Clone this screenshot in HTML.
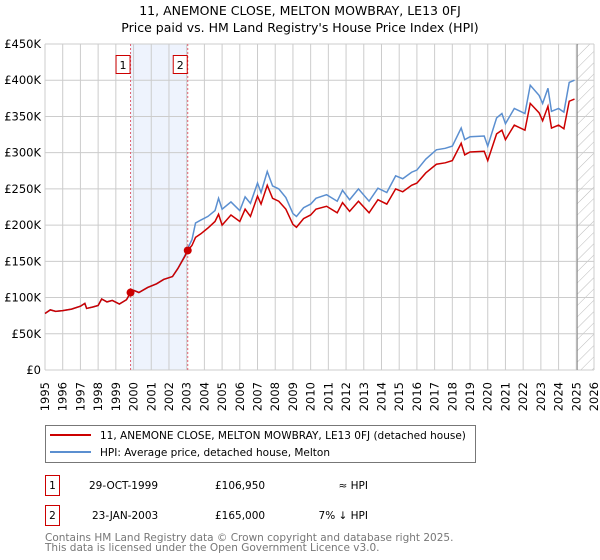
<!DOCTYPE html>
<html><head><meta charset="utf-8">
<style>
body{margin:0;background:#fff;}
svg{display:block;font-family:"DejaVu Sans","Liberation Sans",sans-serif;}
</style></head>
<body>
<svg id="chart" width="600" height="560" viewBox="0 0 600 560" xmlns="http://www.w3.org/2000/svg">
<text x="300" y="15" text-anchor="middle" font-size="12.5" fill="#000">11, ANEMONE CLOSE, MELTON MOWBRAY, LE13 0FJ</text>
<text x="300" y="32" text-anchor="middle" font-size="12.5" fill="#000">Price paid vs. HM Land Registry's House Price Index (HPI)</text>
<g id="grid"></g>
<g id="series"></g>
<g id="axes"></g>
<g>
<rect x="45.5" y="425.5" width="430" height="37" fill="#fff" stroke="#777"/>
<line x1="50" y1="435" x2="91" y2="435" stroke="#cc0000" stroke-width="2"/>
<text x="100" y="439" font-size="10.5">11, ANEMONE CLOSE, MELTON MOWBRAY, LE13 0FJ (detached house)</text>
<line x1="50" y1="452" x2="91" y2="452" stroke="#5b8fd0" stroke-width="2"/>
<text x="100" y="456" font-size="10.5">HPI: Average price, detached house, Melton</text>
</g>
<g font-size="10.5">
<rect x="45.5" y="475.5" width="14" height="20" fill="#fff" stroke="#cc0000"/>
<text x="52.5" y="489" text-anchor="middle">1</text>
<text x="89" y="489">29-OCT-1999</text>
<text x="215" y="489">£106,950</text>
<text x="368" y="489" text-anchor="end">≈ HPI</text>
<rect x="45.5" y="505.5" width="14" height="20" fill="#fff" stroke="#cc0000"/>
<text x="52.5" y="519" text-anchor="middle">2</text>
<text x="92" y="519">23-JAN-2003</text>
<text x="215" y="519">£165,000</text>
<text x="368" y="519" text-anchor="end">7% ↓ HPI</text>
</g>
<text x="45" y="541" font-size="10.5" fill="#777">Contains HM Land Registry data © Crown copyright and database right 2025.</text>
<text x="45" y="551" font-size="10.5" fill="#777">This data is licensed under the Open Government Licence v3.0.</text>
</svg>
<script>
const years=[1995,1995.3,1995.6,1996,1996.5,1997,1997.25,1997.35,1997.7,1998,1998.2,1998.5,1998.8,1999.2,1999.6,1999.83,2000,2000.3,2000.8,2001.3,2001.7,2002.2,2002.5,2002.9,2003.06,2003.3,2003.5,2003.8,2004.2,2004.6,2004.8,2005,2005.5,2006,2006.3,2006.6,2007,2007.2,2007.55,2007.85,2008.2,2008.6,2009,2009.2,2009.6,2010,2010.3,2010.9,2011.5,2011.8,2012.2,2012.7,2013.3,2013.8,2014.3,2014.8,2015.2,2015.7,2016,2016.5,2017.1,2017.6,2018,2018.5,2018.7,2019,2019.8,2020,2020.5,2020.8,2021,2021.5,2022.1,2022.4,2022.9,2023.1,2023.4,2023.6,2024,2024.3,2024.6,2024.9];
const hpiValues=[78,83,81,82,84,88,92,85,87,89,98,94,96,91,97,106,110,107,114,119,125,129,140,158,168,180,203,207,212,220,237,222,232,220,239,230,258,245,274,254,250,238,216,212,224,229,237,242,233,248,235,250,233,251,245,268,264,273,276,291,304,306,309,334,318,322,323,309,348,354,340,361,354,393,379,368,389,357,361,356,397,400];
const priceValues=[78,83,81,82,84,88,92,85,87,89,98,94,96,91,97,107,110,107,114,119,125,129,140,157,165,172,183,188,196,205,215,200,214,205,222,212,240,229,255,237,233,222,201,197,209,214,222,226,217,231,219,233,217,235,229,250,246,255,258,272,284,286,289,313,297,301,302,289,326,331,318,338,331,368,355,344,364,334,338,333,371,374];
const saleYears=[1999.83,2003.06];
const salePrices=[106.95,165];
const saleLabels=["1","2"];
const yTicks=[0,50,100,150,200,250,300,350,400,450];
const yTickLabels=["£0","£50K","£100K","£150K","£200K","£250K","£300K","£350K","£400K","£450K"];
const xTicks=[1995,1996,1997,1998,1999,2000,2001,2002,2003,2004,2005,2006,2007,2008,2009,2010,2011,2012,2013,2014,2015,2016,2017,2018,2019,2020,2021,2022,2023,2024,2025,2026];

const NS="http://www.w3.org/2000/svg";
const X0=45,X1=594,Y0=370,Y1=44;
const xs=y=>X0+(y-1995)/(2026-1995)*(X1-X0);
const ys=v=>Y0-v/450*(Y0-Y1);
function mk(tag,attrs,parent){const e=document.createElementNS(NS,tag);for(const k in attrs)e.setAttribute(k,attrs[k]);parent.appendChild(e);return e;}
const grid=document.getElementById('grid'),ser=document.getElementById('series'),axes=document.getElementById('axes');

// hatch pattern
const defs=mk('defs',{},grid);
const pat=mk('pattern',{id:'hatch',width:8,height:8,patternUnits:'userSpaceOnUse',patternTransform:'rotate(45)'},defs);
mk('line',{x1:0,y1:0,x2:0,y2:8,stroke:'#bbb','stroke-width':1},pat);

// shaded span between sales
const span=mk('rect',{x:xs(saleYears[0]),y:Y1,width:xs(saleYears[1])-xs(saleYears[0]),height:Y0-Y1,fill:'#eef3fd'},grid);


const hatch=mk('rect',{x:xs(2025.05),y:Y1,width:X1-xs(2025.05),height:Y0-Y1,fill:'url(#hatch)'},grid);



yTicks.forEach((t,i)=>{
  const l=mk('line',{x1:X0,x2:X1,y1:ys(t),y2:ys(t),stroke:'#ccc','stroke-width':1},grid);
  
  
  const tx=mk('text',{x:X0-4,y:ys(t)+4,'text-anchor':'end','font-size':'11.5'},axes);
  tx.textContent=yTickLabels[i];
  
  
});
xTicks.forEach(t=>{
  const l=mk('line',{x1:xs(t),x2:xs(t),y1:Y1,y2:Y0,stroke:'#ccc','stroke-width':1},grid);
  
  
  const tx=mk('text',{x:0,y:0,'text-anchor':'end','font-size':'11.5',transform:`translate(${xs(t)+4},${Y0+12}) rotate(-90)`},axes);
  tx.textContent=String(t);
  
  
});
const cutLine=mk('line',{x1:xs(2025.05),x2:xs(2025.05),y1:Y1,y2:Y0,stroke:'#888','stroke-width':1},grid);



saleYears.forEach((s,i)=>{
  const l=mk('line',{x1:xs(s),x2:xs(s),y1:Y1,y2:Y0,stroke:'#e06070','stroke-width':1,'stroke-dasharray':'2,2'},grid);
  
  
  const r=mk('rect',{x:xs(s)-14.5,y:55.5,width:14,height:18,fill:'#fff',stroke:'#cc0000'},grid);
  
  
  const t=mk('text',{x:xs(s)-7.5,y:69,'text-anchor':'middle','font-size':'11'},grid);
  t.textContent=saleLabels[i];
  
  
});

const hp=mk('polyline',{points:years.map((y,i)=>xs(y)+','+ys(hpiValues[i])).join(' '),fill:'none',stroke:'#5b8fd0','stroke-width':1.5},ser);


const pp=mk('polyline',{points:years.map((y,i)=>xs(y)+','+ys(priceValues[i])).join(' '),fill:'none',stroke:'#cc0000','stroke-width':1.5},ser);


saleYears.forEach((s,i)=>{
  const c=mk('circle',{cx:xs(s),cy:ys(salePrices[i]),r:4,fill:'#cc0000'},ser);
  
  
});
</script>
</body></html>
